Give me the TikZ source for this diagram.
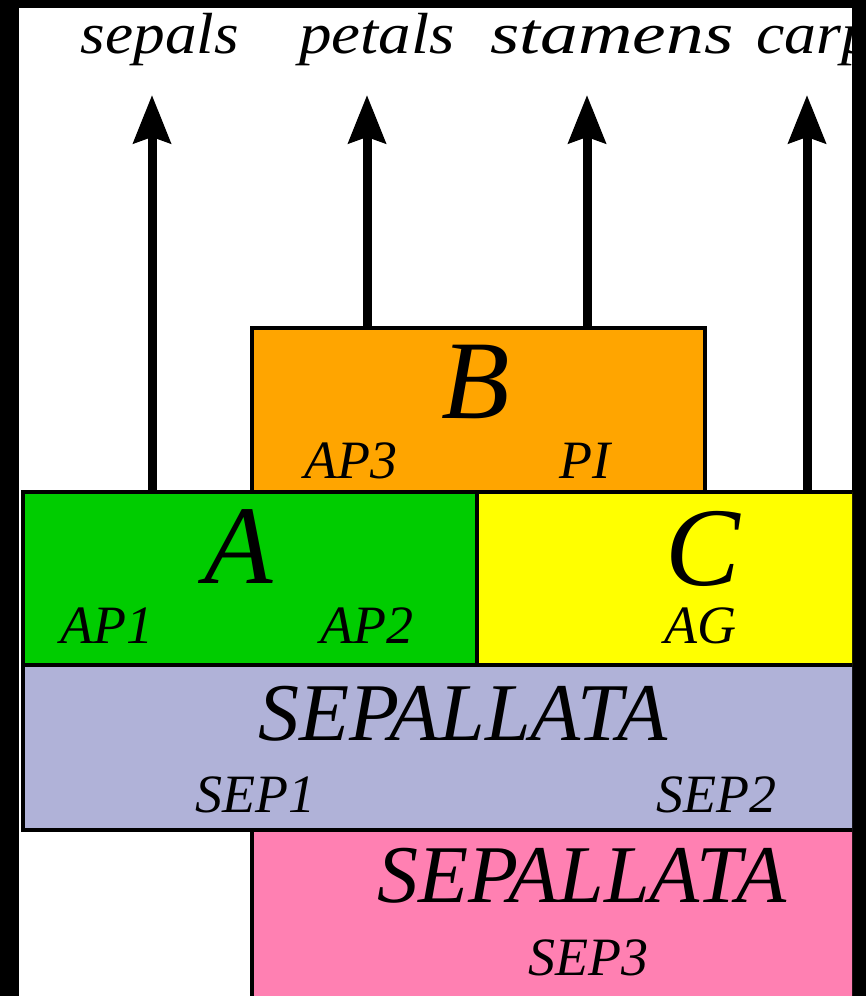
\documentclass[tikz,border=0pt]{standalone}
\usepackage{fontspec}
\setmainfont{Liberation Serif}
\usetikzlibrary{arrows.meta}
\definecolor{cgreen}{RGB}{0,204,0}
\definecolor{corange}{RGB}{255,165,0}
\definecolor{cyellow}{RGB}{255,255,0}
\definecolor{clav}{RGB}{176,178,216}
\definecolor{cpink}{RGB}{255,128,178}
\tikzset{
  genebox/.style={draw=black, line width=4pt, rectangle, inner sep=0pt, anchor=north west},
  toplabel/.style={anchor=base, inner sep=0pt, font=\fontsize{58}{62}\selectfont\itshape},
  biglabel/.style={anchor=base, inner sep=0pt, font=\fontsize{112}{120}\selectfont\itshape},
  midlabel/.style={anchor=base, inner sep=0pt, font=\fontsize{82}{88}\selectfont\itshape},
  genelabel/.style={anchor=base, inner sep=0pt, font=\fontsize{54}{58}\selectfont\itshape},
  organarrow/.style={line width=9pt, -{Stealth[length=48pt, width=37pt, inset=6pt]}}
}
\begin{document}
\begin{tikzpicture}[x=1pt, y=-1pt]
\useasboundingbox (0,0) rectangle (866,996);
\fill[black] (0,0) rectangle (866,996);
\fill[white] (19,8) rectangle (852,996);
\begin{scope}
\clip (19,8) rectangle (852,996);
% boxes
\node[genebox, fill=cpink, minimum width=700pt, minimum height=250pt] (boxS3) at (249.5,828) {};
\node[genebox, fill=clav, minimum width=900pt, minimum height=165pt] (boxS) at (21,662.5) {};
\node[genebox, fill=cgreen, minimum width=454pt, minimum height=172.5pt] (boxA) at (21,490) {};
\node[genebox, fill=cyellow, minimum width=450pt, minimum height=172.5pt] (boxC) at (475,490) {};
\node[genebox, fill=corange, minimum width=453.5pt, minimum height=164.5pt] (boxB) at (249.5,325.5) {};
% arrow tips
\coordinate (tipS) at (152,95);
\coordinate (tipP) at (367,95);
\coordinate (tipT) at (587,95);
\coordinate (tipC) at (807,95);
\draw[organarrow] (tipS |- boxA.north) -- (tipS);
\draw[organarrow] (tipP |- boxB.north) -- (tipP);
\draw[organarrow] (tipT |- boxB.north) -- (tipT);
\draw[organarrow] (tipC |- boxC.north) -- (tipC);
% top labels
\node[toplabel] (lsep) at (160,53) {\scalebox{1.09}[1]{sepals}};
\node[toplabel] (lpet) at (377,53) {\scalebox{1.12}[1]{petals}};
\node[toplabel] (lsta) at (612,53) {\scalebox{1.3}[1]{stamens}};
\node[toplabel, anchor=base west] (lcar) at (756,53) {\scalebox{1.1}[1]{carpels}};
% B
\node[biglabel] (tB) at (476,418) {B};
\node[genelabel] (tAP3) at (351,478) {AP3};
\node[genelabel] (tPI) at (585,478) {PI};
% A
\node[biglabel] (tA) at (239,583) {A};
\node[genelabel] (tAP1) at (107,643) {AP1};
\node[genelabel] (tAP2) at (367,643) {AP2};
% C
\node[biglabel] (tC) at (703,585) {C};
\node[genelabel] (tAG) at (700,643) {AG};
% SEP
\node[midlabel] (tSEPa) at (463,740) {SEPALLATA};
\node[genelabel] (tSEP1) at (255,812) {SEP1};
\node[genelabel] (tSEP2) at (716,812) {SEP2};
\node[midlabel] (tSEPb) at (582,902) {SEPALLATA};
\node[genelabel] (tSEP3) at (588,975) {SEP3};
\end{scope}
\end{tikzpicture}
\end{document}
